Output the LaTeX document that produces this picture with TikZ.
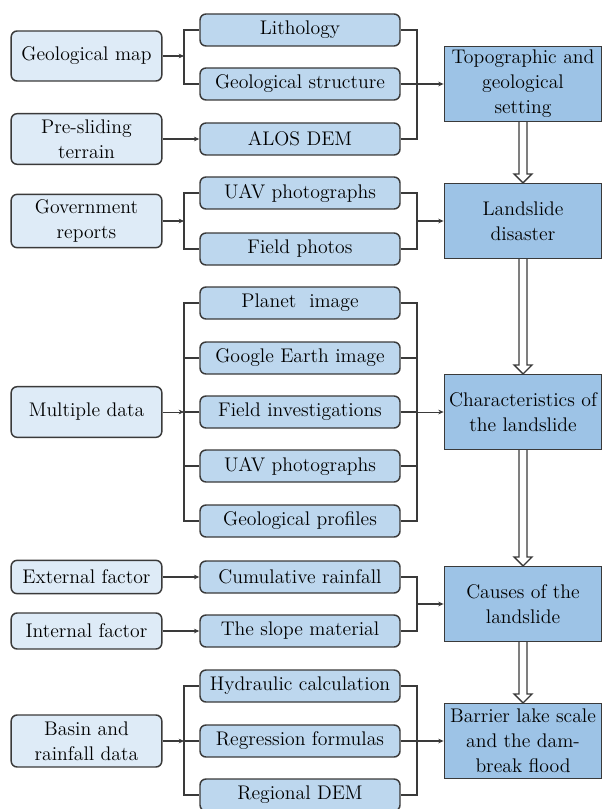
\documentclass[tikz,border=0pt]{standalone}
\usetikzlibrary{arrows.meta,calc}

\definecolor{srcfill}{HTML}{DEEBF7}
\definecolor{datafill}{HTML}{BDD7EE}
\definecolor{stagefill}{HTML}{9DC3E6}
\definecolor{edgegray}{HTML}{3A3A3A}

\tikzset{
  src/.style={draw=edgegray, line width=1.1pt, fill=srcfill, rounded corners=4.5pt,
    minimum width=113pt, minimum height=37.5pt, align=center, inner sep=1pt},
  data/.style={src, fill=datafill, minimum width=150pt, minimum height=24pt},
  stage/.style={draw=edgegray, line width=1.1pt, fill=stagefill, minimum width=118pt,
    minimum height=56pt, align=center, inner sep=1pt},
  link/.style={draw=edgegray, line width=1pt},
  tip/.style={link, -{Stealth[length=4pt,width=3.5pt]}},
  thintip/.style={tip, line width=0.5pt},
  hollow/.style={draw=edgegray, line width=1pt, fill=white},
}

% hollow arrow between two stages
\newcommand\bigarrow[2]{%
  \draw[hollow] ($(#1.south)+(-4,0)$) -- ($(#2.north)+(-4,-9)$) -- ($(#2.north)+(-9,-9)$)
    -- (#2.north) -- ($(#2.north)+(9,-9)$) -- ($(#2.north)+(4,-9)$) -- ($(#1.south)+(4,0)$);}

\begin{document}
\begin{tikzpicture}[x=0.75pt, y=-0.75pt, font=\fontsize{14.8}{18.75}\selectfont]
  \useasboundingbox (0,0) rectangle (602,809);

  % sources
  \node[src] (map) at (86.5,56) {Geological map};
  \node[src, minimum height=38pt] (pre) at (86.5,139) {Pre-sliding\\terrain};
  \node[src, minimum height=40pt] (gov) at (86.5,221) {Government\\reports};
  \node[src, minimum height=38pt] (multi) at (86.5,412) {Multiple data};
  \node[src, minimum height=25pt] (ext) at (86.5,577) {External factor};
  \node[src, minimum height=27pt] (int) at (86.5,631) {Internal factor};
  \node[src, minimum height=39pt] (basin) at (86.5,741) {Basin and\\rainfall data};

  % data
  \node[data] (lith) at (300,30) {Lithology};
  \node[data] (struct) at (300,84) {Geological structure};
  \node[data] (alos) at (300,139) {ALOS DEM};
  \node[data] (uavA) at (300,193) {UAV photographs};
  \node[data] (photo) at (300,249) {Field photos};
  \node[data] (planet) at (300,303) {Planet\ \ image};
  \node[data] (earth) at (300,358) {Google Earth image};
  \node[data] (field) at (300,412) {Field investigations};
  \node[data] (uavB) at (300,466) {UAV photographs};
  \node[data] (prof) at (300,521) {Geological profiles};
  \node[data] (rain) at (300,577) {Cumulative rainfall};
  \node[data] (slope) at (300,631) {The slope material};
  \node[data] (hyd) at (300,686) {Hydraulic calculation};
  \node[data] (regr) at (300,741) {Regression formulas};
  \node[data] (dem) at (300,795) {Regional DEM};

  % stages
  \node[stage] (topo) at (523,84) {Topographic and\\geological\\setting};
  \node[stage] (disaster) at (523,221) {Landslide\\disaster};
  \node[stage] (charact) at (523,412) {Characteristics of\\the landslide};
  \node[stage] (causes) at (523,604) {Causes of the\\landslide};
  \node[stage] (lake) at (523,741) {Barrier lake scale\\and the dam-\\break flood};

  % bars
  \coordinate (barA) at (184,56);
  \coordinate (barB) at (184,221);
  \coordinate (barC) at (184,412);
  \coordinate (barD) at (184,741);
  \coordinate (rbarA) at (417,84);
  \coordinate (rbarB) at (417,221);
  \coordinate (rbarC) at (417,412);
  \coordinate (rbarD) at (417,604);
  \coordinate (rbarE) at (417,741);

  % left side
  \draw[link] (lith.west) -| (barA) |- (struct.west);
  \draw[tip] (map.east) -- (barA);
  \draw[tip] (pre.east) -- (alos.west);
  \draw[link] (uavA.west) -| (barB) |- (photo.west);
  \draw[tip] (gov.east) -- (barB);
  \draw[link] (planet.west) -| (barC) |- (prof.west);
  \foreach \n in {earth,field,uavB}
    \draw[link] (\n.west) -- (\n.west -| barC);
  \draw[thintip] (multi.east) -- (barC);
  \draw[tip] (ext.east) -- (rain.west);
  \draw[tip] (int.east) -- (slope.west);
  \draw[link] (hyd.west) -| (barD) |- (dem.west);
  \draw[link] (regr.west) -- (barD);
  \draw[tip] (basin.east) -- (barD);

  % right side
  \draw[link] (lith.east) -| (rbarA) |- (alos.east);
  \draw[link] (struct.east) -- (rbarA);
  \draw[tip] (rbarA) -- (topo.west);
  \draw[link] (uavA.east) -| (rbarB) |- (photo.east);
  \draw[tip] (rbarB) -- (disaster.west);
  \draw[link] (planet.east) -| (rbarC) |- (prof.east);
  \foreach \n in {earth,field,uavB}
    \draw[link] (\n.east) -- (\n.east -| rbarC);
  \draw[thintip] (rbarC) -- (charact.west);
  \draw[link] (rain.east) -| (rbarD) |- (slope.east);
  \draw[tip] (rbarD) -- (causes.west);
  \draw[link] (hyd.east) -| (rbarE) |- (dem.east);
  \draw[link] (regr.east) -- (rbarE);
  \draw[tip] (rbarE) -- (lake.west);

  % flow of stages
  \bigarrow{topo}{disaster}
  \bigarrow{disaster}{charact}
  \bigarrow{charact}{causes}
  \bigarrow{causes}{lake}
\end{tikzpicture}
\end{document}
